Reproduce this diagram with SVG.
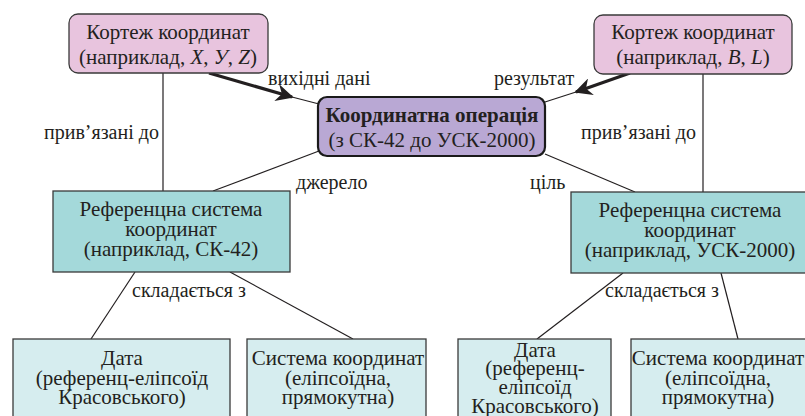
<svg xmlns="http://www.w3.org/2000/svg" width="805" height="416" viewBox="0 0 805 416">
<style>
text{font-family:"Liberation Serif","Times New Roman",serif;font-size:21px;fill:#231f20;text-anchor:middle}
.lbl{text-anchor:start;font-size:20px}
.pink{fill:#e8c4de;stroke:#3a3a3a;stroke-width:1.3}
.op{fill:#b9a8d4;stroke:#1a1a1a;stroke-width:2.2}
.rs{fill:#a4d9da;stroke:#3a3a3a;stroke-width:1.3}
.leaf{fill:#d6edef;stroke:#3a3a3a;stroke-width:1.3}
.ln{stroke:#231f20;stroke-width:1.2;fill:none}
.thick{stroke:#231f20;stroke-width:3.2;fill:none}
</style>
<defs>
<marker id="ah" viewBox="0 0 10 10" refX="9" refY="5" markerWidth="5.5" markerHeight="5.5" markerUnits="strokeWidth" orient="auto">
<path d="M0,0 L10,5 L0,10 L3,5 z" fill="#231f20"/>
</marker>
</defs>
<g id="connectors">
<line class="ln" x1="163" y1="73" x2="163" y2="191"/>
<line class="ln" x1="703" y1="73" x2="703" y2="192"/>
<line class="thick" x1="209" y1="73" x2="292" y2="97" marker-end="url(#ah)"/>
<line class="ln" x1="292" y1="97" x2="319" y2="104"/>
<line class="thick" x1="630" y1="73" x2="576" y2="92" marker-end="url(#ah)"/>
<line class="ln" x1="576" y1="92" x2="545" y2="102"/>
<line class="ln" x1="319" y1="151" x2="213" y2="191"/>
<line class="ln" x1="545" y1="154" x2="635" y2="192"/>
<line class="ln" x1="135" y1="272" x2="91" y2="339"/>
<line class="ln" x1="230" y1="272" x2="353" y2="339"/>
<line class="ln" x1="623" y1="273" x2="537" y2="339"/>
<line class="ln" x1="721" y1="273" x2="738" y2="339"/>
<text class="lbl" x="268" y="85">вихідні дані</text>
<text class="lbl" x="494" y="85">результат</text>
<text class="lbl" x="44" y="139">прив’язані до</text>
<text class="lbl" x="581" y="139">прив’язані до</text>
<text class="lbl" x="296" y="189">джерело</text>
<text class="lbl" x="530" y="189">ціль</text>
<text class="lbl" x="132" y="297">складається з</text>
<text class="lbl" x="605" y="297">складається з</text>
</g>
<g id="tuple-left">
<rect class="pink" x="69" y="14" width="199" height="59" rx="9"/>
<text x="168" y="39">Кортеж координат</text>
<text x="168" y="64">(наприклад, <tspan font-style="italic">X</tspan>, <tspan font-style="italic">У</tspan>, <tspan font-style="italic">Z</tspan>)</text>
</g>
<g id="tuple-right">
<rect class="pink" x="594" y="15" width="198" height="59" rx="9"/>
<text x="693" y="39">Кортеж координат</text>
<text x="693" y="64">(наприклад, <tspan font-style="italic">B</tspan>, <tspan font-style="italic">L</tspan>)</text>
</g>
<g id="operation">
<rect class="op" x="318" y="97" width="227" height="59" rx="9"/>
<text x="432" y="122" font-weight="bold">Координатна операція</text>
<text x="432" y="147">(з СК-42 до УСК-2000)</text>
</g>
<g id="crs-left">
<rect class="rs" x="53" y="191" width="237" height="81"/>
<text x="171" y="216">Референцна система</text>
<text x="171" y="236">координат</text>
<text x="171" y="256">(наприклад, СК-42)</text>
</g>
<g id="crs-right">
<rect class="rs" x="571" y="192" width="238" height="81"/>
<text x="690" y="217">Референцна система</text>
<text x="690" y="237">координат</text>
<text x="690" y="257">(наприклад, УСК-2000)</text>
</g>
<g id="datum-left">
<rect class="leaf" x="13" y="339" width="217" height="90"/>
<text x="122" y="365">Дата</text>
<text x="122" y="385">(референц-еліпсоїд</text>
<text x="122" y="404">Красовського)</text>
</g>
<g id="cs-left">
<rect class="leaf" x="247" y="339" width="179" height="90"/>
<text x="338" y="365">Система координат</text>
<text x="338" y="385">(еліпсоїдна,</text>
<text x="338" y="404">прямокутна)</text>
</g>
<g id="datum-right">
<rect class="leaf" x="458" y="339" width="153" height="90"/>
<text x="535" y="357">Дата</text>
<text x="535" y="375">(референц-</text>
<text x="535" y="394">еліпсоїд</text>
<text x="535" y="413">Красовського)</text>
</g>
<g id="cs-right">
<rect class="leaf" x="631" y="339" width="190" height="90"/>
<text x="718" y="365">Система координат</text>
<text x="718" y="385">(еліпсоїдна,</text>
<text x="718" y="404">прямокутна)</text>
</g>
</svg>
